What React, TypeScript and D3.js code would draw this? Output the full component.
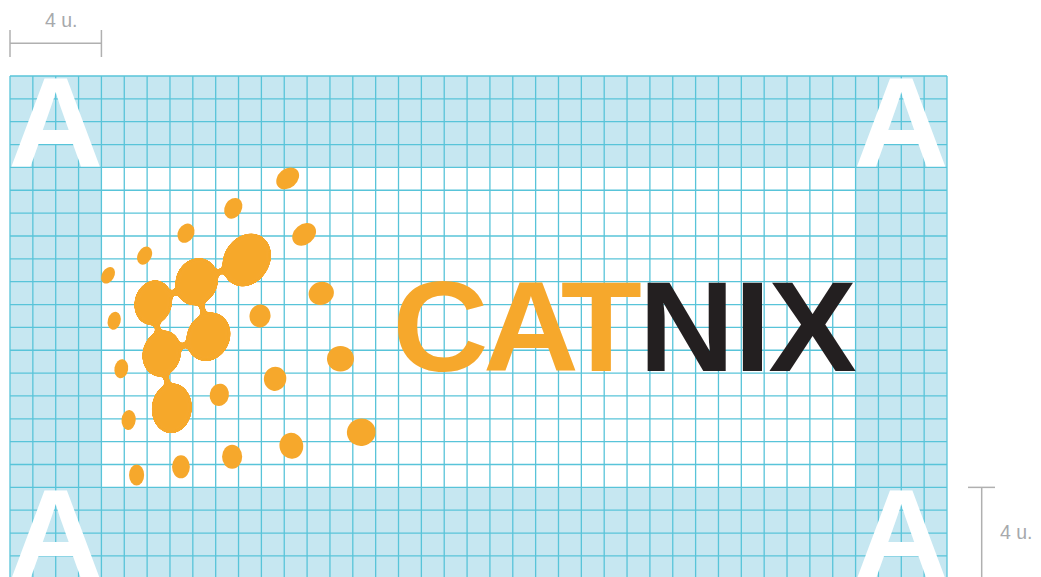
import React from "react";
import * as d3 from "d3";

const W = 1041;
const H = 577;

// construction grid (in grid units "u.")
const gridCols = 41;
const gridRows = 22;
const clearSpace = 4; // the "4 u." exclusion margin
const innerCols = 33;
const innerRows = 14;

// corner "A" markers: [col, row] of the 4x4 cell they sit in
const cornerCells: [number, number][] = [
  [0, 0],
  [37, 0],
  [0, 18],
  [37, 18],
];

// wordmark letters: letter, visual centre (u), colour key
const wordLetters = ["C", "A", "T", "N", "I", "X"];
const wordCenters = [18.83, 22.8, 25.87, 29.61, 32.49, 35.12];
const wordColorKey = ["o", "o", "o", "k", "k", "k"];
const wordBaseline = 12.9;

// blobs: [cx, cy, rx, ry, rotation] in grid units / degrees
const blobs: [number, number, number, number, number][] = [
  [12.15, 4.48, 0.55, 0.42, -40],
  [9.77, 5.79, 0.37, 0.48, 30],
  [7.7, 6.88, 0.35, 0.44, 30],
  [12.87, 6.93, 0.57, 0.44, -40],
  [5.89, 7.86, 0.3, 0.42, 28],
  [10.36, 8.05, 1.22, 1.0, -58],
  [4.29, 8.72, 0.27, 0.39, 30],
  [8.17, 9.0, 0.92, 1.06, 22],
  [13.62, 9.51, 0.56, 0.5, -20],
  [6.27, 9.92, 0.82, 1.0, 15],
  [10.94, 10.5, 0.46, 0.5, 10],
  [4.56, 10.71, 0.28, 0.4, 15],
  [8.68, 11.41, 0.94, 1.1, 25],
  [6.64, 12.14, 0.84, 1.03, 15],
  [14.46, 12.37, 0.59, 0.56, 0],
  [4.87, 12.81, 0.3, 0.42, 10],
  [11.6, 13.25, 0.49, 0.53, 10],
  [9.16, 13.95, 0.42, 0.49, 10],
  [7.08, 14.54, 0.88, 1.1, 5],
  [5.19, 15.05, 0.31, 0.44, 5],
  [15.37, 15.59, 0.63, 0.6, -10],
  [12.31, 16.18, 0.52, 0.57, -10],
  [9.72, 16.66, 0.44, 0.53, 0],
  [7.48, 17.1, 0.39, 0.5, 0],
  [5.54, 17.46, 0.33, 0.46, 0],
];

// blobs joined by necks
const links: [number, number][] = [
  [5, 7],
  [7, 9],
  [9, 13],
  [13, 12],
  [7, 12],
  [13, 18],
];

const dimLabel = "4 u.";

const COLORS = {
  band: "#c6e7f1",
  line: "#58c4d9",
  orange: "#f6a82c",
  black: "#231f20",
  dim: "#b0b0b0",
  dimText: "#a7a9ac",
};

export default function App() {
  const x = d3.scaleLinear().domain([0, gridCols]).range([10, 947]);
  const u = x(1) - x(0);
  const y = d3.scaleLinear().domain([0, gridRows]).range([76, 76 + gridRows * u]);

  const linked = new Set<number>();
  links.forEach(([a, b]) => {
    linked.add(a);
    linked.add(b);
  });

  const ell = (b: [number, number, number, number, number], i: number) => (
    <ellipse
      key={i}
      cx={0}
      cy={0}
      rx={b[2] * u}
      ry={b[3] * u}
      transform={`translate(${x(b[0])},${y(b[1])}) rotate(${b[4]})`}
      fill={COLORS.orange}
    />
  );

  const fontSize = (clearSpace * u) / 0.716;
  const font = "'Liberation Sans', Arial, Helvetica, sans-serif";

  return (
    <svg
      width={W}
      height={H}
      viewBox={`0 0 ${W} ${H}`}
      style={{ position: "absolute", left: 0, top: 0, display: "block", background: "#fff" }}
    >
      <defs>
        <filter id="goo" x="-20%" y="-20%" width="140%" height="140%">
          <feGaussianBlur in="SourceGraphic" stdDeviation="2.2" result="b" />
          <feColorMatrix
            in="b"
            type="matrix"
            values="1 0 0 0 0  0 1 0 0 0  0 0 1 0 0  0 0 0 18 -8"
          />
        </filter>
      </defs>

      {/* clear-space band */}
      <rect x={x(0)} y={y(0)} width={x(gridCols) - x(0)} height={y(gridRows) - y(0)} fill={COLORS.band} />
      <rect
        x={x(clearSpace)}
        y={y(clearSpace)}
        width={x(clearSpace + innerCols) - x(clearSpace)}
        height={y(clearSpace + innerRows) - y(clearSpace)}
        fill="#fff"
      />

      {/* grid */}
      <g stroke={COLORS.line} strokeWidth={1.3}>
        {d3.range(gridCols + 1).map((i) => (
          <line key={"v" + i} x1={x(i)} x2={x(i)} y1={y(0)} y2={y(gridRows)} />
        ))}
        {d3.range(gridRows + 1).map((j) => (
          <line key={"h" + j} x1={x(0)} x2={x(gridCols)} y1={y(j)} y2={y(j)} />
        ))}
      </g>

      {/* corner A markers */}
      <g fill="#fff" fontFamily={font} fontWeight="bold" fontSize={fontSize} textAnchor="middle">
        {cornerCells.map(([c, r], i) => (
          <text key={i} x={0} y={0} transform={`translate(${x(c + clearSpace / 2)},${y(r + clearSpace)}) scale(1.03,1)`}>
            A
          </text>
        ))}
      </g>

      {/* symbol */}
      <g>
        {blobs.map((b, i) => (linked.has(i) ? null : ell(b, i)))}
      </g>
      <g filter="url(#goo)">
        {links.map(([a, b], i) => (
          <line
            key={"l" + i}
            x1={x(blobs[a][0])}
            y1={y(blobs[a][1])}
            x2={x(blobs[b][0])}
            y2={y(blobs[b][1])}
            stroke={COLORS.orange}
            strokeWidth={5.5}
          />
        ))}
        {blobs.map((b, i) => (linked.has(i) ? ell(b, i) : null))}
      </g>

      {/* wordmark */}
      <g fontFamily={font} fontWeight="bold" fontSize={fontSize} textAnchor="middle">
        {wordLetters.map((ch, i) => (
          <text
            key={i}
            x={0}
            y={0}
            transform={`translate(${x(wordCenters[i])},${y(wordBaseline)}) scale(1.04,1)`}
            fill={wordColorKey[i] === "o" ? COLORS.orange : COLORS.black}
          >
            {ch}
          </text>
        ))}
      </g>

      {/* dimensions */}
      <g stroke={COLORS.dim} strokeWidth={1.5} fill="none">
        <line x1={x(0)} x2={x(clearSpace)} y1={43.3} y2={43.3} />
        <line x1={x(0)} x2={x(0)} y1={30} y2={57} />
        <line x1={x(clearSpace)} x2={x(clearSpace)} y1={30} y2={57} />
        <line x1={981.7} x2={981.7} y1={y(18)} y2={y(gridRows)} />
        <line x1={968} x2={995} y1={y(18)} y2={y(18)} />
        <line x1={968} x2={995} y1={y(gridRows) - 1} y2={y(gridRows) - 1} />
      </g>
      <g fill={COLORS.dimText} fontFamily={font} fontSize={19.5}>
        <text x={45} y={26.8}>{dimLabel}</text>
        <text x={1000} y={539}>{dimLabel}</text>
      </g>
    </svg>
  );
}
